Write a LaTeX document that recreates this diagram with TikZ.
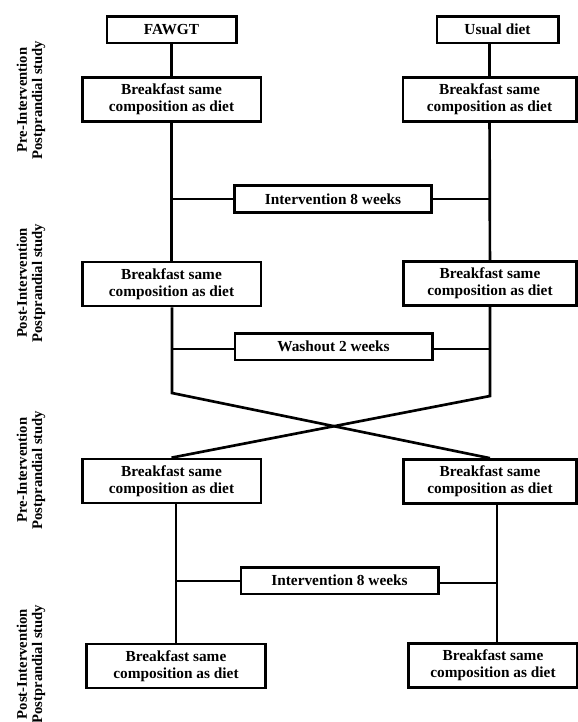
\documentclass[tikz,border=0pt]{standalone}
\usepackage{fontspec}
\setmainfont{Liberation Serif}
\usepackage{tikz}
\usetikzlibrary{positioning}

\tikzstyle{meal} = [draw, line width=2pt, minimum width=134pt, minimum height=33pt, inner sep=0pt,
                    align=center, font=\bfseries\fontsize{11.5}{12.8}\selectfont]
\tikzstyle{arm} = [meal, minimum height=20pt]
\tikzstyle{phase} = [arm, minimum width=148pt]
\tikzstyle{period} = [rotate=90, align=center, font=\bfseries\fontsize{11}{11.5}\selectfont]
\tikzstyle{link} = [line width=2pt]
\tikzstyle{branch} = [line width=1.5pt]

\begin{document}
\begin{tikzpicture}[x=0.75pt, y=-0.75pt]
\useasboundingbox (0,0) rectangle (578,722);

%% Side labels
\node[period] (lab1) at (31,100) {Pre-Intervention\\Postprandial study};
\node[period] (lab2) at (31,283) {Post-Intervention\\Postprandial study};
\node[period] (lab3) at (31,470) {Pre-Intervention\\Postprandial study};
\node[period] (lab4) at (31,664) {Post-Intervention\\Postprandial study};

%% Arms
\node[arm, minimum width=97pt] (fawgt) at (171.5,29.5) {FAWGT};
\node[arm, minimum width=91pt] (usual) at (497.5,29.5) {Usual diet};

% first period
\node[meal] (preL) at (171.5,99.5) {Breakfast same\\composition as diet};
\node[meal, minimum width=130pt] (preR) at (489.5,99.5) {Breakfast same\\composition as diet};
\node[phase] (int1) at (333,199) {Intervention 8 weeks};
\node[meal] (postL) at (171.5,284) {Breakfast same\\composition as diet};
\node[meal, minimum width=130pt] (postR) at (490,283.5) {Breakfast same\\composition as diet};

% washout
\node[phase] (wash) at (333.5,346.5) {Washout 2 weeks};
\coordinate (bendL) at (172,393);
\coordinate (bendR) at (490,396);

% second period
\node[meal] (pre2L) at (171.5,481) {Breakfast same\\composition as diet};
\node[meal, minimum width=130pt] (pre2R) at (490,481.5) {Breakfast same\\composition as diet};
\node[phase] (int2) at (339.5,580.5) {Intervention 8 weeks};
\node[meal] (post2L) at (176,666) {Breakfast same\\composition as diet};
\node[meal, minimum width=127pt] (post2R) at (493,665.5) {Breakfast same\\composition as diet};

%% Vertical lines
\draw[link] (fawgt) -- (preL);
\draw[link] (usual.south -| preR.north) -- (preR);
\draw[link] (preL) -- (postL);
\draw[link] (preR) -- (postR);
\draw[link] (postL.south -| bendL) -- (bendL) -- (pre2R.north);
\draw[link] (postR.south -| bendR) -- (bendR) -- (pre2L.north);
\draw[link] (pre2L.south -| post2L.north) -- (post2L.north);
\draw[link] ([xshift=3pt]pre2R.south -| post2R.north) -- ([xshift=3pt]post2R.north);

%% Horizontal lines
\draw[branch] (int1.west) -- (int1.west -| preL.south);
\draw[branch] (int1.east) -- (int1.east -| preR.south);
\draw[branch] ([yshift=-2pt]wash.west) -- ([yshift=-2pt]wash.west -| bendL);
\draw[branch] ([yshift=-2pt]wash.east) -- ([yshift=-2pt]wash.east -| bendR);
\draw[branch] (int2.west) -- (int2.west -| post2L.north);
\draw[branch] ([yshift=-2pt]int2.east) -- ([yshift=-2pt, xshift=3pt]int2.east -| post2R.north);
\end{tikzpicture}
\end{document}
